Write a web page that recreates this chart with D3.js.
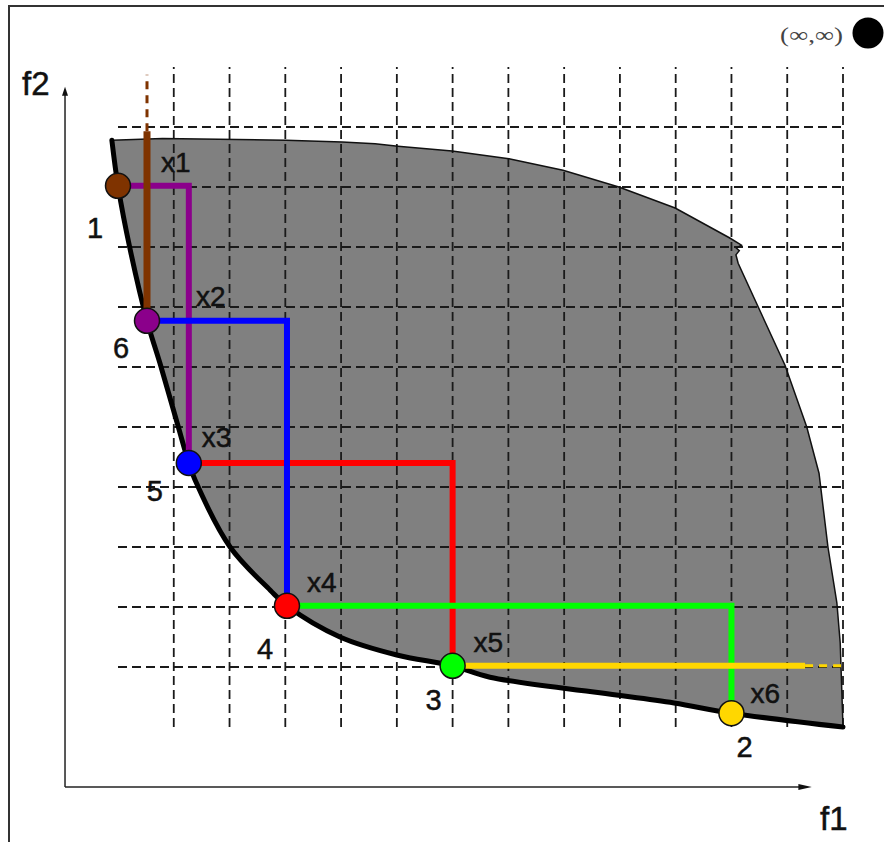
<!DOCTYPE html>
<html>
<head>
<meta charset="utf-8">
<script src="https://cdn.jsdelivr.net/npm/d3@7"></script>
<style>
  body { margin: 0; background: #fff; }
  svg text { font-family: "Liberation Sans", Arial, sans-serif; fill: #111; stroke: #111; stroke-width: 0.5; }
</style>
</head>
<body>
<div class="chart"></div>
<script>
// grid positions (objective space units)
const gridF1 = [1, 2, 3, 4, 5, 6, 7, 8, 9, 10, 11, 12, 13];
const gridF2 = [1, 2, 3, 4, 5, 6, 7, 8, 9, 10];

// pareto front (lower-left boundary of the feasible region)
const frontF1 = [-0.11, 0, 0.22, 0.52, 0.75, 1.06, 1.27, 1.38, 2.01, 2.73, 3.03, 3.98, 5.0, 6.0, 6.67, 8.64, 9.97, 11.0, 13.0];
const frontF2 = [9.78, 9.02, 7.95, 6.77, 6.07, 5.07, 4.4, 4.12, 3.0, 2.28, 2.02, 1.5, 1.2, 1.02, 0.83, 0.57, 0.4, 0.23, 0.0];

// upper/right boundary, from bottom-right corner round to top-left
const edgeF1 = [13.0, 12.95, 12.89, 12.73, 12.57, 12.35, 11.96, 11.48, 11.12, 11.08, 11.14, 11.09, 11.18, 10.97, 9.99, 8.98, 7.98, 7.01, 5.99, 5.02, 4.61, 4.02, 3.01, 0.8, -0.11];
const edgeF2 = [0.0, 1.4, 2.07, 3.0, 4.23, 5.0, 6.03, 7.0, 7.73, 7.87, 7.94, 7.98, 8.03, 8.15, 8.65, 9.0, 9.28, 9.47, 9.6, 9.68, 9.72, 9.75, 9.78, 9.81, 9.78];

// solutions, sorted by f1
const pointIds = ["1", "6", "5", "4", "3", "2"];
const pointF1 = [0, 0.52, 1.27, 3.03, 6.0, 11.0];
const pointF2 = [9.02, 6.77, 4.4, 2.02, 1.02, 0.23];
const pointColors = ["#7f3300", "#8b008b", "#0000ff", "#ff0000", "#00ff00", "#ffd700"];
const boxLabels = ["x1", "x2", "x3", "x4", "x5", "x6"];

// open ends of the first / last box (solid part, then dashed part)
const openTop = [9.93, 10.87];
const openRight = [12.32, 13.05];

const width = 884, height = 842;

const x = d3.scaleLinear().domain([0, 13]).range([118, 843]);
const y = d3.scaleLinear().domain([0, 11]).range([727, 67]);

const svg = d3.select(".chart").append("svg")
    .attr("width", width)
    .attr("height", height);

// outer frame
svg.append("rect")
    .attr("x", 9).attr("y", 6)
    .attr("width", 900).attr("height", 900)
    .attr("fill", "none")
    .attr("stroke", "#333")
    .attr("stroke-width", 2);

// feasible region
const front = frontF1.map((d, i) => [d, frontF2[i]]);
const edge = edgeF1.map((d, i) => [d, edgeF2[i]]);
const toPx = d3.line().x(d => x(d[0])).y(d => y(d[1]));

svg.append("path")
    .attr("d", toPx(edge.concat(front.slice().reverse())) + "Z")
    .attr("fill", "#808080");

// dashed grid
const grid = svg.append("g")
    .attr("stroke", "#1a1a1a")
    .attr("stroke-width", 1.8)
    .attr("stroke-dasharray", "9,5");

grid.selectAll(".h").data(gridF2).enter().append("line")
    .attr("x1", x(0)).attr("x2", x(13))
    .attr("y1", d => y(d)).attr("y2", d => y(d));

grid.selectAll(".v").data(gridF1).enter().append("line")
    .attr("x1", d => x(d)).attr("x2", d => x(d))
    .attr("y1", y(0)).attr("y2", y(11));

// thin outline on the upper boundary
svg.append("path")
    .attr("d", toPx(edge))
    .attr("fill", "none")
    .attr("stroke", "#111")
    .attr("stroke-width", 1.5);

// axes
const ox = x(-0.95), oy = y(-1);
svg.append("line")
    .attr("x1", ox).attr("y1", oy).attr("x2", x(12.3)).attr("y2", oy)
    .attr("stroke", "#222").attr("stroke-width", 1.5);
svg.append("line")
    .attr("x1", ox).attr("y1", oy).attr("x2", ox).attr("y2", y(10.55))
    .attr("stroke", "#222").attr("stroke-width", 1.5);
svg.append("path")
    .attr("d", `M${x(12.44)},${oy}L${x(12.2)},${oy - 3}L${x(12.2)},${oy + 3}Z`)
    .attr("fill", "#111");
svg.append("path")
    .attr("d", `M${ox},${y(10.67)}L${ox - 3},${y(10.52)}L${ox + 3},${y(10.52)}Z`)
    .attr("fill", "#111");

svg.append("text").attr("x", 22).attr("y", 95)
    .attr("font-size", 33).text("f2");
svg.append("text").attr("x", 820).attr("y", 830)
    .attr("font-size", 33).text("f1");

// pareto front line
svg.append("path")
    .attr("d", d3.line().x(d => x(d[0])).y(d => y(d[1])).curve(d3.curveCatmullRom)(front))
    .attr("fill", "none")
    .attr("stroke", "#000")
    .attr("stroke-width", 5)
    .attr("stroke-linecap", "round");

// boxes between neighbouring solutions
const n = pointIds.length;
function boxPath(i) {
  if (i === 0) return [[pointF1[1], openTop[0]], [pointF1[1], pointF2[1]]];
  if (i === n - 1) return [[pointF1[i - 1], pointF2[i - 1]], [openRight[0], pointF2[i - 1]]];
  return [[pointF1[i - 1], pointF2[i - 1]], [pointF1[i + 1], pointF2[i - 1]], [pointF1[i + 1], pointF2[i + 1]]];
}

const drawOrder = [1, 3, 2, 4, 5, 0];
drawOrder.forEach(i => {
  svg.append("path")
    .attr("d", toPx(boxPath(i)))
    .attr("fill", "none")
    .attr("stroke", pointColors[i])
    .attr("stroke-width", i === 0 ? 7 : 6)
    .attr("stroke-linejoin", "miter");
});

// dashed continuation to infinity
svg.append("line")
    .attr("x1", x(pointF1[1])).attr("x2", x(pointF1[1]))
    .attr("y1", y(openTop[0])).attr("y2", y(openTop[1]))
    .attr("stroke", pointColors[0]).attr("stroke-width", 3)
    .attr("stroke-dasharray", "8,6");
svg.append("line")
    .attr("x1", x(openRight[0])).attr("x2", x(openRight[1]))
    .attr("y1", y(pointF2[n - 2])).attr("y2", y(pointF2[n - 2]))
    .attr("stroke", pointColors[n - 1]).attr("stroke-width", 3)
    .attr("stroke-dasharray", "8,6");

// solution markers
svg.selectAll(".pt").data(pointIds).enter().append("circle")
    .attr("cx", (d, i) => x(pointF1[i]))
    .attr("cy", (d, i) => y(pointF2[i]))
    .attr("r", 12.5)
    .attr("fill", (d, i) => pointColors[i])
    .attr("stroke", "#111")
    .attr("stroke-width", 1.5);

// label offsets in pixels from each marker
const idOffset = [[-31, 52], [-34, 37], [-42, 38], [-30, 53], [-27, 44], [5, 44]];
const boxOffset = [[43, -14], [49, -15], [13, -16], [20, -14], [21, -14], [19, -10]];

svg.selectAll(".id").data(pointIds).enter().append("text")
    .attr("x", (d, i) => x(pointF1[i]) + idOffset[i][0])
    .attr("y", (d, i) => y(pointF2[i]) + idOffset[i][1])
    .attr("font-size", 29)
    .text(d => d);

svg.selectAll(".bx").data(boxLabels).enter().append("text")
    .attr("x", (d, i) => x(pointF1[i]) + boxOffset[i][0])
    .attr("y", (d, i) => y(pointF2[i]) + boxOffset[i][1])
    .attr("font-size", 28)
    .text(d => d);

// ideal corner marker
svg.append("text")
    .attr("x", 780).attr("y", 42)
    .attr("font-size", 21)
    .attr("textLength", 63)
    .attr("lengthAdjust", "spacingAndGlyphs")
    .style("font-family", "'Liberation Serif', 'Times New Roman', serif")
    .style("fill", "#444")
    .style("stroke", "none")
    .text("(∞,∞)");
svg.append("circle")
    .attr("cx", 868).attr("cy", 33).attr("r", 15.5)
    .attr("fill", "#000");
</script>
</body>
</html>
